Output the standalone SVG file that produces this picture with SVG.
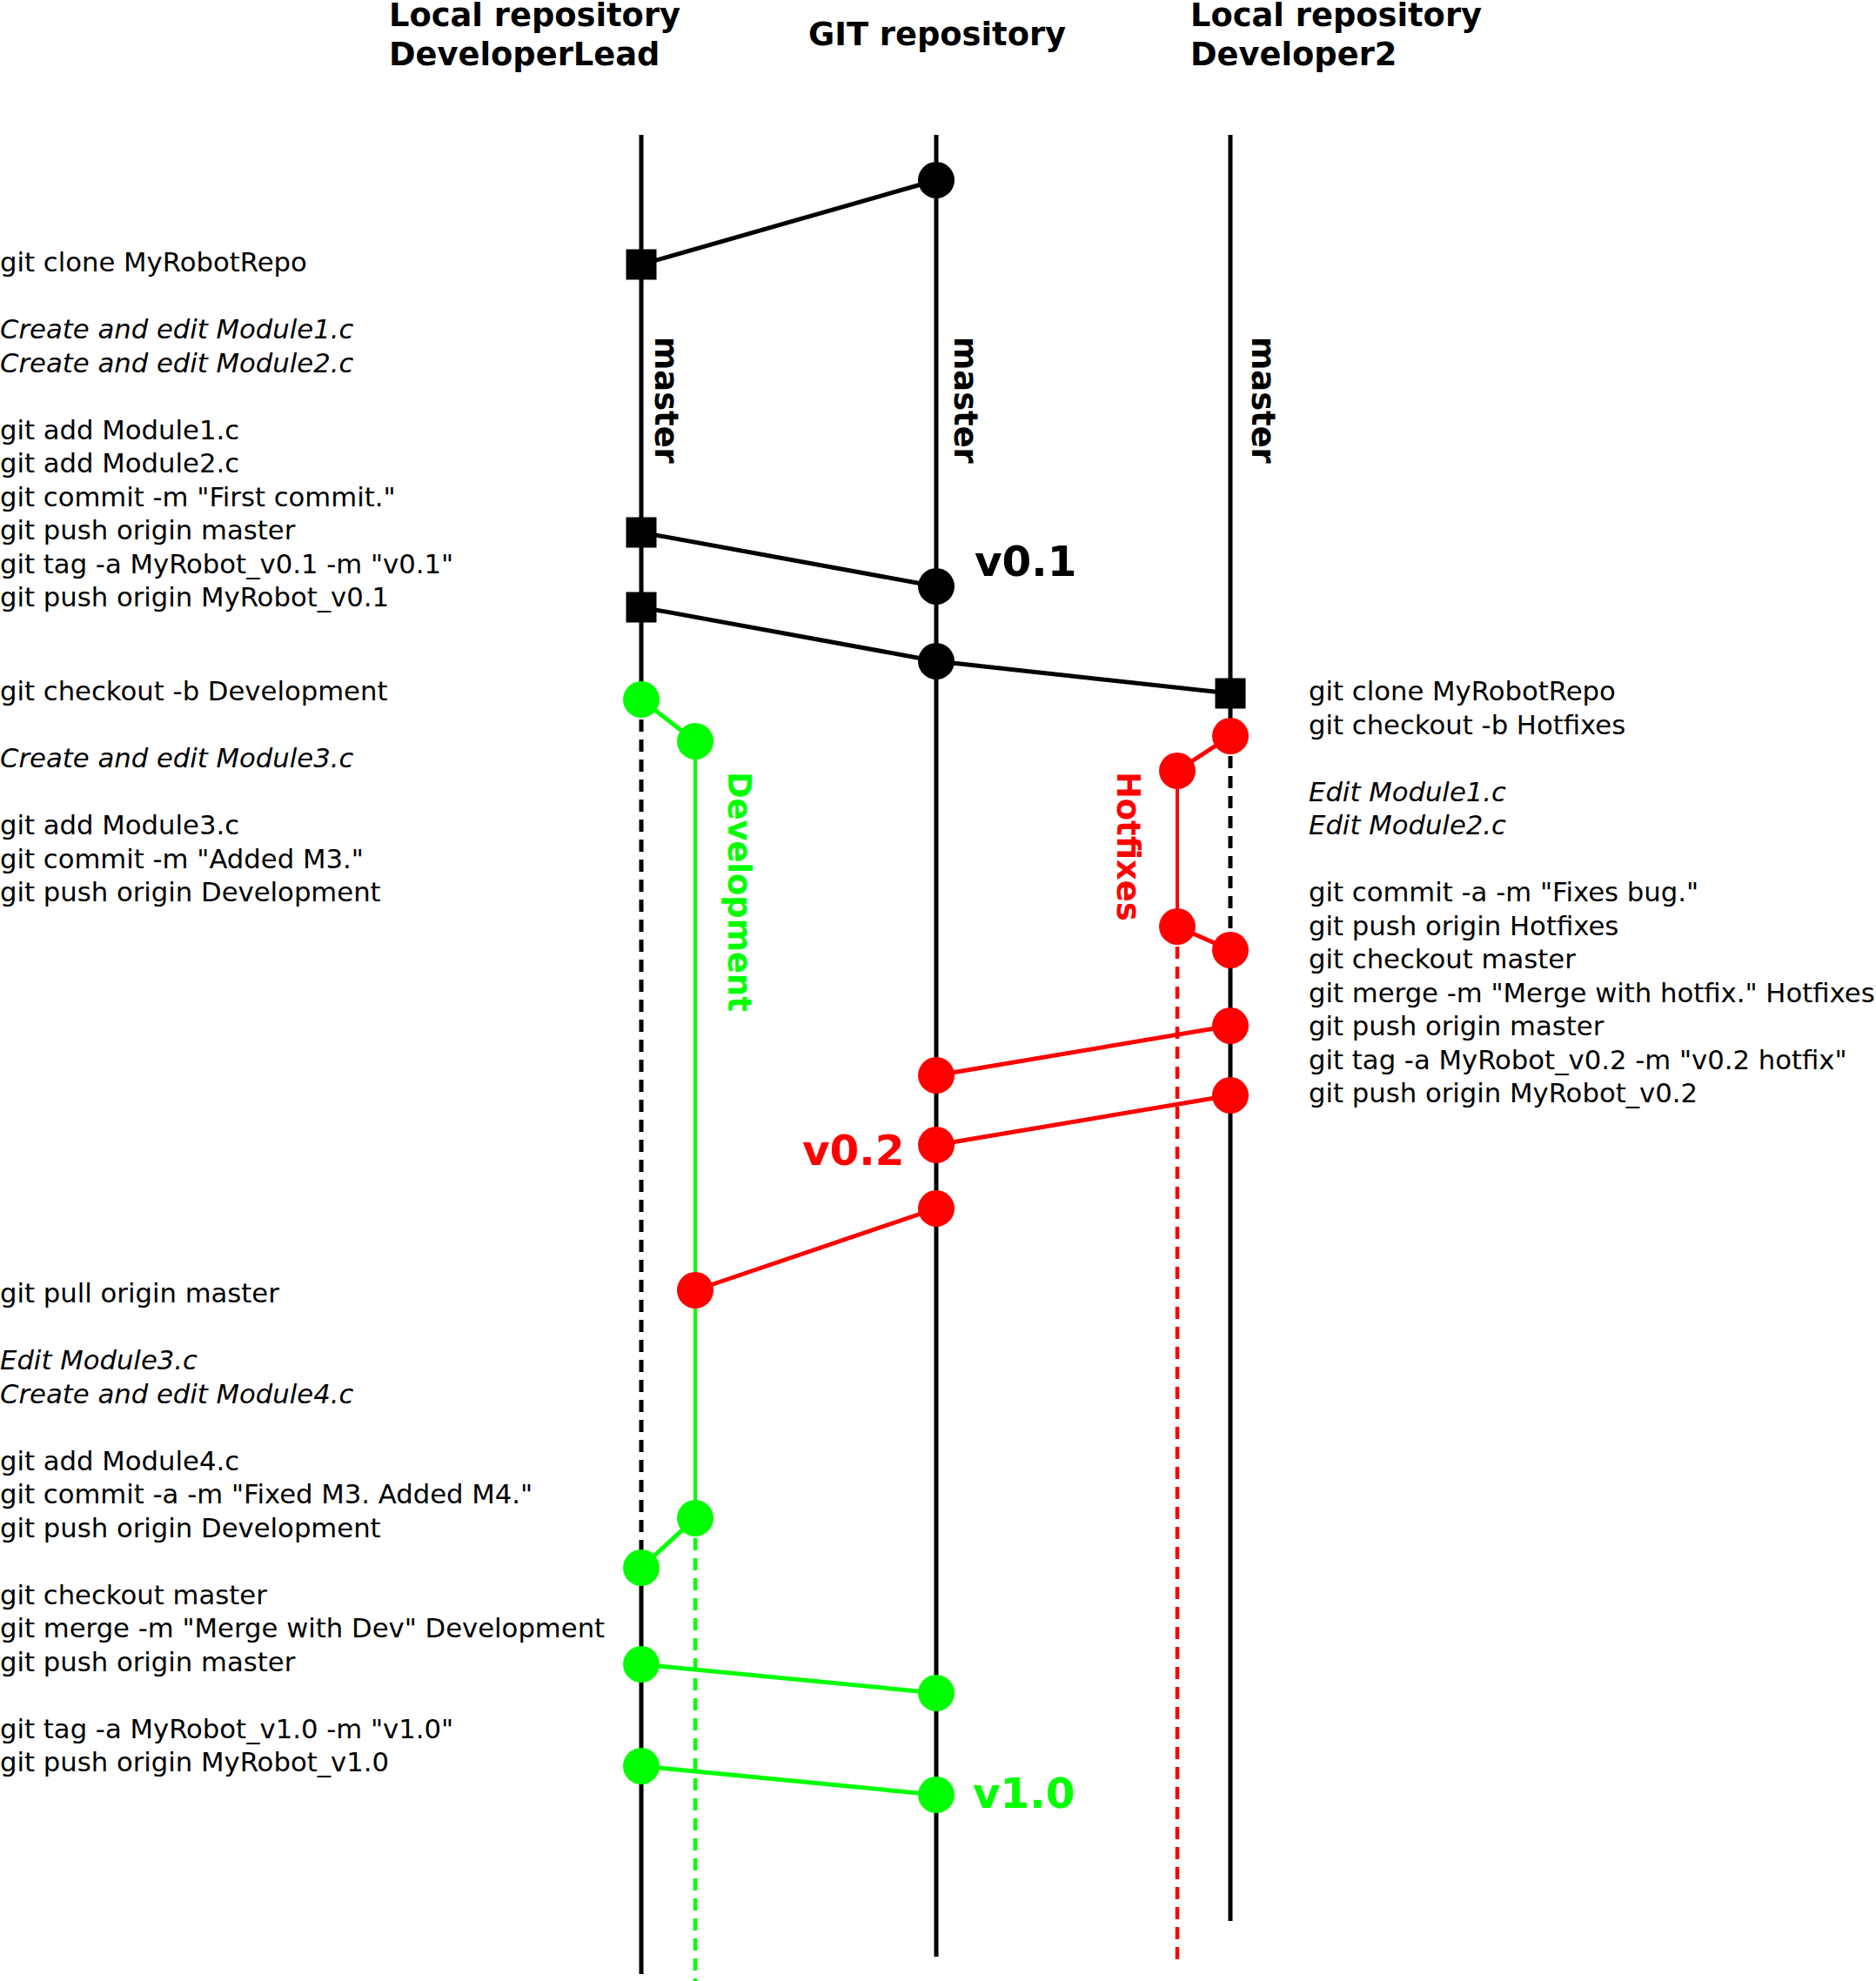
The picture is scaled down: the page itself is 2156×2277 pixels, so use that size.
<svg xmlns="http://www.w3.org/2000/svg" width="2156" height="2277" viewBox="0 0 2156 2277">
<style>
.bg{fill:#fff}
.t{font-family:"DejaVu Sans","Liberation Sans",sans-serif;font-size:30.7px;fill:#000}
.i{font-style:italic}
.h{font-family:"DejaVu Sans","Liberation Sans",sans-serif;font-size:36.8px;font-weight:bold;fill:#000}
.tag{font-family:"DejaVu Sans","Liberation Sans",sans-serif;font-size:48.5px;font-weight:bold}
.lane{stroke:#000;stroke-width:5;fill:none}
.dash{stroke-dasharray:14,9}
.gb{stroke:#00ff00;stroke-width:4;fill:none}
.rb{stroke:#ff0000;stroke-width:4;fill:none}
.wd{stroke-width:4.5}
.ck{stroke:#000;stroke-width:5;fill:none}
.cg{stroke:#00ff00;stroke-width:5;fill:none}
.cr{stroke:#ff0000;stroke-width:5;fill:none}
.nk{fill:#000}
.ng{fill:#00ff00}
.nr{fill:#ff0000}
</style>
<rect class="bg" x="0" y="0" width="2156" height="2277"/>

<g id="headers">
<text class="h" x="447" y="30">Local repository</text>
<text class="h" x="447" y="75">DeveloperLead</text>
<text class="h" x="929" y="52">GIT repository</text>
<text class="h" x="1368" y="30">Local repository</text>
<text class="h" x="1368" y="75">Developer2</text>
</g>

<g id="lanes">
<line class="lane" x1="737" y1="155" x2="737" y2="804"/>
<line class="lane dash" x1="737" y1="804" x2="737" y2="1802"/>
<line class="lane" x1="737" y1="1802" x2="737" y2="2269"/>
<line class="lane" x1="1076" y1="155" x2="1076" y2="2249"/>
<line class="lane" x1="1414" y1="155" x2="1414" y2="846"/>
<line class="lane dash" x1="1414" y1="846" x2="1414" y2="1092"/>
<line class="lane" x1="1414" y1="1092" x2="1414" y2="2208"/>
<line class="gb" x1="799" y1="852" x2="799" y2="1745"/>
<line class="gb wd dash" x1="799" y1="1745" x2="799" y2="2277"/>
<line class="rb" x1="1353" y1="886" x2="1353" y2="1065"/>
<line class="rb wd dash" x1="1353" y1="1065" x2="1353" y2="2258"/>
</g>

<g id="connectors">
<line class="ck" x1="737" y1="304" x2="1076" y2="207"/>
<line class="ck" x1="737" y1="612" x2="1076" y2="674"/>
<line class="ck" x1="737" y1="698" x2="1076" y2="760"/>
<line class="ck" x1="1076" y1="760" x2="1414" y2="797"/>
<line class="cg" x1="737" y1="804" x2="799" y2="852"/>
<line class="cr" x1="1414" y1="846" x2="1353" y2="886"/>
<line class="cr" x1="1353" y1="1065" x2="1414" y2="1092"/>
<line class="cr" x1="1414" y1="1179" x2="1076" y2="1236"/>
<line class="cr" x1="1414" y1="1259" x2="1076" y2="1316"/>
<line class="cr" x1="1076" y1="1389" x2="799" y2="1483"/>
<line class="cg" x1="799" y1="1745" x2="737" y2="1802"/>
<line class="cg" x1="737" y1="1913" x2="1076" y2="1946"/>
<line class="cg" x1="737" y1="2030" x2="1076" y2="2063"/>
</g>

<g id="lane-labels">
<text class="h" transform="translate(753,387) rotate(90)">master</text>
<text class="h" transform="translate(1097,387) rotate(90)">master</text>
<text class="h" transform="translate(1439,387) rotate(90)">master</text>
<text class="h" style="fill:#00ff00" transform="translate(837,887) rotate(90)">Development</text>
<text class="h" style="fill:#ff0000" transform="translate(1284,887) rotate(90)">Hotfixes</text>
</g>

<g id="n-lead-clone"><rect class="nk" x="719.5" y="286.5" width="35" height="35"/></g>
<g id="n-git-init"><circle class="nk" cx="1076" cy="207" r="21"/></g>
<g id="n-lead-push"><rect class="nk" x="719.5" y="594.5" width="35" height="35"/></g>
<g id="n-lead-tag"><rect class="nk" x="719.5" y="680.5" width="35" height="35"/></g>
<g id="n-git-v01"><circle class="nk" cx="1076" cy="674" r="21"/></g>
<g id="n-git-tag01"><circle class="nk" cx="1076" cy="760" r="21"/></g>
<g id="n-dev2-clone"><rect class="nk" x="1396.5" y="779.5" width="35" height="35"/></g>

<g id="n-lead-branch"><circle class="ng" cx="737" cy="804" r="21"/></g>
<g id="n-dev-1"><circle class="ng" cx="799" cy="852" r="21"/></g>
<g id="n-dev2-branch"><circle class="nr" cx="1414" cy="846" r="21"/></g>
<g id="n-hot-1"><circle class="nr" cx="1353" cy="886" r="21"/></g>
<g id="n-hot-2"><circle class="nr" cx="1353" cy="1065" r="21"/></g>
<g id="n-dev2-merge"><circle class="nr" cx="1414" cy="1092" r="21"/></g>
<g id="n-dev2-push"><circle class="nr" cx="1414" cy="1179" r="21"/></g>
<g id="n-dev2-tag"><circle class="nr" cx="1414" cy="1259" r="21"/></g>
<g id="n-git-hot"><circle class="nr" cx="1076" cy="1236" r="21"/></g>
<g id="n-git-v02"><circle class="nr" cx="1076" cy="1316" r="21"/></g>
<g id="n-git-pull"><circle class="nr" cx="1076" cy="1389" r="21"/></g>
<g id="n-dev-pull"><circle class="nr" cx="799" cy="1483" r="21"/></g>
<g id="n-dev-2"><circle class="ng" cx="799" cy="1745" r="21"/></g>
<g id="n-lead-merge"><circle class="ng" cx="737" cy="1802" r="21"/></g>
<g id="n-lead-push2"><circle class="ng" cx="737" cy="1913" r="21"/></g>
<g id="n-git-merge"><circle class="ng" cx="1076" cy="1946" r="21"/></g>
<g id="n-lead-tag10"><circle class="ng" cx="737" cy="2030" r="21"/></g>
<g id="n-git-v10"><circle class="ng" cx="1076" cy="2063" r="21"/></g>

<g id="tags">
<text class="tag" x="1120" y="662" fill="#000">v0.1</text>
<text class="tag" x="922" y="1339" fill="#ff0000">v0.2</text>
<text class="tag" x="1118" y="2078" fill="#00ff00">v1.0</text>
</g>

<g id="lead-steps">
<text class="t" x="0" y="312">git clone MyRobotRepo</text>
<text class="t i" x="0" y="389">Create and edit Module1.c</text>
<text class="t i" x="0" y="427.5">Create and edit Module2.c</text>
<text class="t" x="0" y="504.5">git add Module1.c</text>
<text class="t" x="0" y="543">git add Module2.c</text>
<text class="t" x="0" y="581.5">git commit -m "First commit."</text>
<text class="t" x="0" y="620">git push origin master</text>
<text class="t" x="0" y="658.5">git tag -a MyRobot_v0.1 -m "v0.1"</text>
<text class="t" x="0" y="697">git push origin MyRobot_v0.1</text>
<text class="t" x="0" y="805">git checkout -b Development</text>
<text class="t i" x="0" y="882">Create and edit Module3.c</text>
<text class="t" x="0" y="959">git add Module3.c</text>
<text class="t" x="0" y="997.5">git commit -m "Added M3."</text>
<text class="t" x="0" y="1036">git push origin Development</text>
<text class="t" x="0" y="1497">git pull origin master</text>
<text class="t i" x="0" y="1574">Edit Module3.c</text>
<text class="t i" x="0" y="1612.5">Create and edit Module4.c</text>
<text class="t" x="0" y="1689.5">git add Module4.c</text>
<text class="t" x="0" y="1728">git commit -a -m "Fixed M3. Added M4."</text>
<text class="t" x="0" y="1766.5">git push origin Development</text>
<text class="t" x="0" y="1843.5">git checkout master</text>
<text class="t" x="0" y="1882">git merge -m "Merge with Dev" Development</text>
<text class="t" x="0" y="1920.5">git push origin master</text>
<text class="t" x="0" y="1997.5">git tag -a MyRobot_v1.0 -m "v1.0"</text>
<text class="t" x="0" y="2036">git push origin MyRobot_v1.0</text>
</g>

<g id="dev2-steps">
<text class="t" x="1504" y="805">git clone MyRobotRepo</text>
<text class="t" x="1504" y="843.5">git checkout -b Hotfixes</text>
<text class="t i" x="1504" y="920.5">Edit Module1.c</text>
<text class="t i" x="1504" y="959">Edit Module2.c</text>
<text class="t" x="1504" y="1036">git commit -a -m "Fixes bug."</text>
<text class="t" x="1504" y="1074.5">git push origin Hotfixes</text>
<text class="t" x="1504" y="1113">git checkout master</text>
<text class="t" x="1504" y="1151.5">git merge -m "Merge with hotfix." Hotfixes</text>
<text class="t" x="1504" y="1190">git push origin master</text>
<text class="t" x="1504" y="1228.5">git tag -a MyRobot_v0.2 -m "v0.2 hotfix"</text>
<text class="t" x="1504" y="1267">git push origin MyRobot_v0.2</text>
</g>
</svg>
